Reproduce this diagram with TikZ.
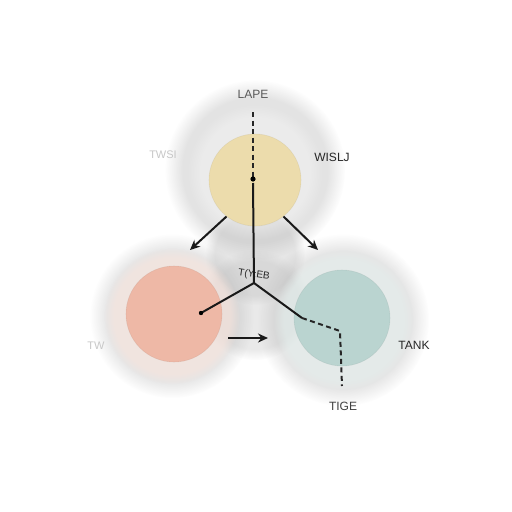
\documentclass[tikz,border=0pt]{standalone}
\usepackage{fontspec}
\setmainfont{Liberation Sans}
\usetikzlibrary{fadings,arrows.meta}
\definecolor{topin}{RGB}{236,220,172}
\definecolor{leftin}{RGB}{238,184,166}
\definecolor{rightin}{RGB}{186,212,208}
\definecolor{halo}{RGB}{185,185,185}
\tikzset{
  blob/.style={circle,inner sep=0pt,draw=#1!80!black,draw opacity=0.25,line width=0.6pt},
  lbl/.style={font=\fontsize{12}{14}\selectfont,text=black!85},
  faint/.style={font=\fontsize{11}{13}\selectfont,text=black!22},
  conn/.style={line width=2pt,black!90},
  arr/.style={conn,-{Stealth[length=10pt,width=9pt]}},
  dsh/.style={line width=2pt,black!85,dash pattern=on 5pt off 3.5pt}
}
\begin{document}
\begin{tikzpicture}[x=1pt,y=-1pt]
\useasboundingbox (0,0) rectangle (512,512);
\fill[white] (0,0) rectangle (512,512);
% halos
\fill[halo,opacity=0.4,path fading=circle with fuzzy edge 20 percent] (255,170) circle (90);
\fill[halo,opacity=0.35,path fading=circle with fuzzy edge 20 percent] (255,255) circle (50);
\fill[halo,opacity=0.35,path fading=circle with fuzzy edge 20 percent] (172,316) circle (82);
\fill[halo,opacity=0.35,path fading=circle with fuzzy edge 20 percent] (343,320) circle (86);
\fill[halo,opacity=0.3,path fading=circle with fuzzy edge 20 percent] (255,305) circle (55);
\fill[leftin!40,opacity=0.6,path fading=circle with fuzzy edge 15 percent] (172,316) circle (68);
\fill[rightin!40,opacity=0.6,path fading=circle with fuzzy edge 15 percent] (343,320) circle (70);
\fill[white,opacity=0.3,path fading=circle with fuzzy edge 20 percent] (255,172) circle (68);
% circles
\node[blob=topin,fill=topin,minimum size=92pt] (top) at (255,180) {};
\node[blob=leftin,fill=leftin,minimum size=96pt] (left) at (174,314) {};
\node[blob=rightin,fill=rightin,minimum size=96pt] (right) at (342,318) {};
% labels
\node[lbl,text=black!65] (lape) at (253,94) {LAPE};
\node[lbl] (wis) at (332,157) {WISLJ};
\node[faint] (tws) at (163,155) {TWSI};
\node[faint] (tw) at (96,346) {TW};
\node[lbl] (tank) at (414,345) {TANK};
\node[lbl,text=black!75] (tige) at (343,406) {TIGE};
\node[lbl,font=\fontsize{10}{12}\selectfont,rotate=-8] (mid) at (254,275) {T(Y:EB};
% coordinates
\coordinate (dtop) at (253,112);
\coordinate (ctop) at (253,179);
\coordinate (junc) at (254,283);
\coordinate (cleft) at (201,313);
\coordinate (cright) at (302,318);
\coordinate (bend) at (340,331);
\coordinate (dbot) at (342,386);
% connectors
\draw[dsh] (dtop) -- (ctop);
\fill (ctop) circle (2.6);
\draw[conn] (ctop) ++(0,4) -- (junc);
\draw[conn] (junc) -- (cleft);
\fill (cleft) circle (2.2);
\draw[conn] (junc) -- (cright);
\draw[dsh] (cright) -- (bend) -- (dbot);
\draw[arr] (top.232) -- (190,250);
\draw[arr] (top.308) -- (318,250);
\draw[arr] (228,338) -- (268,338);
\end{tikzpicture}
\end{document}
